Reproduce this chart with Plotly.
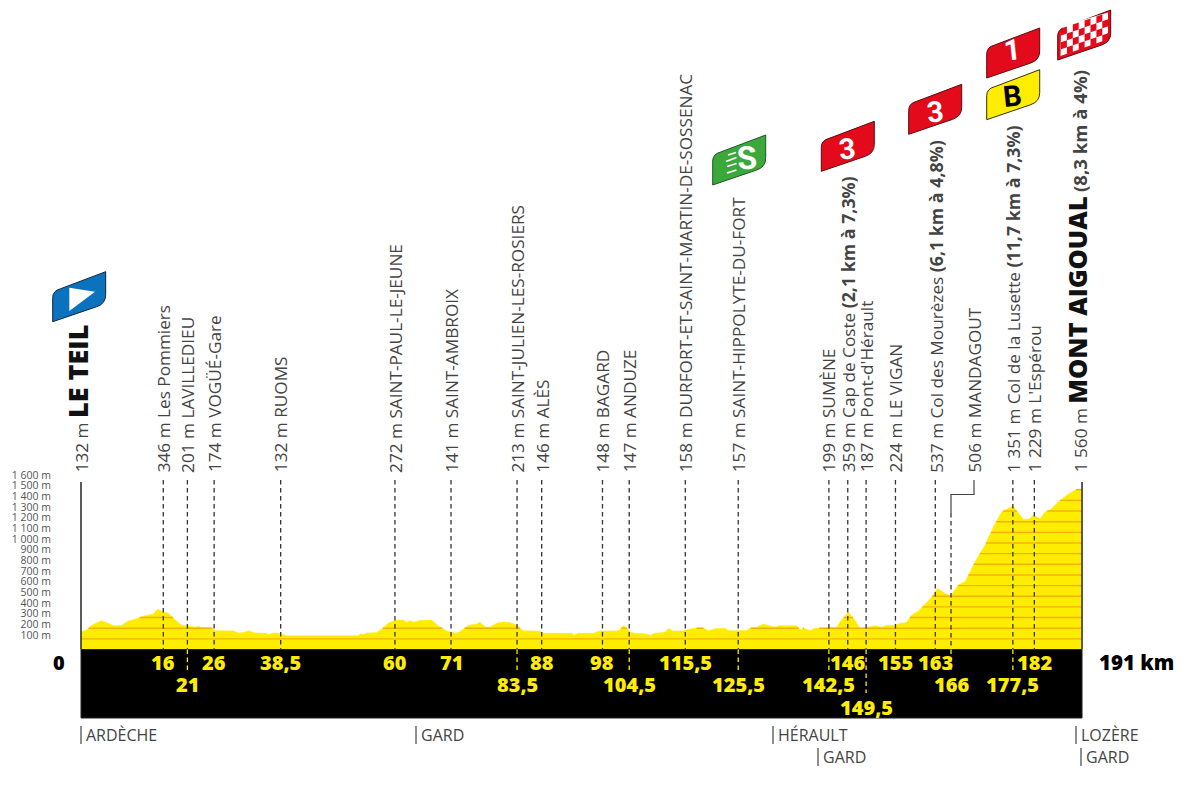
import plotly.graph_objects as go
import numpy as np

# ---- data ----
profile_km = [0.0,1.1,2.0,3.0,3.9,5.2,6.2,7.8,9.0,10.3,12.2,13.8,14.6,15.7,16.7,18.0,19.2,20.5,21.8,22.4,23.0,24.9,25.6,29.1,30.0,31.3,31.9,33.2,35.4,35.7,36.7,38.0,39.2,
 49.4,52.9,53.4,53.9,54.5,56.4,57.7,58.6,60.2,61.5,62.1,62.8,63.5,64.7,66.9,68.2,69.8,70.7,71.4,72.3,73.9,75.5,76.1,77.1,78.0,79.3,80.6,81.9,82.8,84.4,87.6,88.2,93.6,94.1,94.9,97.8,
 99.0,102.2,102.8,103.5,104.1,104.8,105.7,107.6,108.6,109.5,111.4,112.2,112.8,114.9,116.8,118.7,119.7,121.0,122.9,123.5,125.1,127.0,127.6,128.9,130.2,131.5,132.4,133.1,136.6,137.2,137.8,139.1,140.0,142.6,144.2,145.1,146.4,147.4,148.6,
 150.2,151.5,152.8,153.7,155.3,156.3,157.5,158.5,159.8,161.0,162.3,163.4,164.5,165.9,167.4,168.7,170.6,172.5,174.1,175.7,177.8,178.9,179.8,180.8,181.7,183.0,184.0,184.9,186.5,188.4,190.0,191.0]
profile_m = [164,183,227,252,271,246,224,227,268,283,318,333,377,352,340,277,227,221,208,218,205,205,177,174,155,161,177,155,152,139,155,152,130,
 130,130,149,139,155,158,205,246,277,277,255,271,255,274,274,221,174,158,152,167,227,239,255,214,208,246,258,252,236,177,171,152,152,136,152,152,
 174,174,183,224,205,161,152,149,133,152,161,199,174,174,199,202,177,196,199,177,174,177,199,208,239,224,208,224,224,183,202,177,199,202,211,277,349,293,205,
 208,224,208,227,227,246,252,324,362,427,490,574,537,502,606,637,825,981,1153,1294,1347,1279,1222,1222,1260,1228,1294,1310,1388,1460,1504,1507]

elev_ticks = list(range(100, 1700, 100))
elev_text = ["100 m","200 m","300 m","400 m","500 m","600 m","700 m","800 m","900 m","1 000 m","1 100 m","1 200 m","1 300 m","1 400 m","1 500 m","1 600 m"]

place_km = [15.7,20.3,25.4,38.1,59.9,70.6,83.2,87.9,99.5,104.6,115.3,125.4,142.7,146.3,149.8,155.4,163.0,166.0,177.8,181.9]
km_labels = ["16","21","26","38,5","60","71","83,5","88","98","104,5","115,5","125,5","142,5","146","149,5","155","163","166","177,5","182"]
km_rows = [1,2,1,1,1,1,2,1,1,2,1,2,2,1,3,1,1,2,2,1]
BOLD = "font-weight:700;font-size:17.8px"
place_text = ["346 m Les Pommiers","201 m LAVILLEDIEU","174 m VOGÜÉ-Gare","132 m RUOMS","272 m SAINT-PAUL-LE-JEUNE","141 m SAINT-AMBROIX",
 "213 m SAINT-JULIEN-LES-ROSIERS","146 m ALÈS","148 m BAGARD","147 m ANDUZE","158 m DURFORT-ET-SAINT-MARTIN-DE-SOSSENAC","157 m SAINT-HIPPOLYTE-DU-FORT",
 "199 m SUMÈNE",f"359 m Cap de Coste <span style='{BOLD}'>(2,1 km à 7,3%)</span>","187 m Pont-d'Hérault","224 m LE VIGAN",
 f"537 m Col des Mourèzes <span style='{BOLD}'>(6,1 km à 4,8%)</span>",None,
 f"1 351 m Col de la Lusette <span style='{BOLD}'>(11,7 km à 7,3%)</span>","1 229 m L'Espérou"]

regions = ["ARDÈCHE","GARD","HÉRAULT","GARD","LOZÈRE","GARD"]
region_px = [(81,735),(416,735),(773,735),(818,757),(1076,735),(1081,757)]

# ---- scale of the page: helpers take pixels of the 1200x792 window; the page has an 8 px body margin ----
PAD = 8
W, H = 1200 - PAD, 792 - PAD
PX_KM = 5.241; PX_M = 0.1065; X0 = 81; Y0 = 649.5
def kmx(px): return (px - X0) / PX_KM
def my(py): return (Y0 - py) / PX_M
def px_p(px): return (px - PAD) / W
def py_p(py): return 1 - (py - PAD) / H

km = np.array(profile_km, float); alt = np.array(profile_m, float)
BAND = my(718)
LEADER_TOP = my(480); LABEL_BASE = my(474.5)
INK = "#444444"; YEL = "#FFED00"; ORG = "#F7B000"

fig = go.Figure()

# profile
fig.add_trace(go.Scatter(x=km, y=alt, mode="lines", fill="tozeroy", fillcolor=YEL,
                         line=dict(color=YEL, width=0.5), hoverinfo="skip"))
# 100 m bands clipped to the profile
gx, gy = [], []
for lv in elev_ticks[:-1]:
    inside = False
    for i in range(len(km) - 1):
        a, b = alt[i], alt[i + 1]
        if (a - lv) * (b - lv) < 0:
            xc = km[i] + (lv - a) / (b - a) * (km[i + 1] - km[i])
            gx.append(xc); gy.append(lv)
            if inside:
                gx.append(None); gy.append(None)
            inside = not inside
    if inside:
        gx += [km[-1], None]; gy += [lv, None]
gx += [0, 191, None]; gy += [100, 100, None]
fig.add_trace(go.Scatter(x=gx, y=gy, mode="lines", line=dict(color=ORG, width=1.4), hoverinfo="skip"))

# black band
fig.add_trace(go.Scatter(x=[0, 191, 191, 0, 0], y=[0, 0, BAND, BAND, 0], mode="lines", fill="toself",
                         fillcolor="#000000", line=dict(color="#222222", width=1), hoverinfo="skip"))
# axis lines
fig.add_trace(go.Scatter(x=[0, 0, None, 191, 191], y=[my(482), 0, None, my(482), 0], mode="lines",
                         line=dict(color="#333333", width=1.6), hoverinfo="skip"))

# dashed leaders
lx, ly, yx, yy = [], [], [], []
for k, r, t in zip(place_km, km_rows, place_text):
    top = LEADER_TOP if t is not None else my(513)
    lx += [k, k, None]; ly += [top, 0, None]
    if r > 1:
        yx += [k, k, None]; yy += [0, my(672 if r == 2 else 693), None]
fig.add_trace(go.Scatter(x=lx, y=ly, mode="lines", line=dict(color="#333333", width=1.3, dash="4.5px,3.5px"), hoverinfo="skip"))
fig.add_trace(go.Scatter(x=yx, y=yy, mode="lines", line=dict(color=YEL, width=1.3, dash="4.5px,3.5px"), hoverinfo="skip"))
# Mandagout elbow
fig.add_trace(go.Scatter(x=[kmx(974), kmx(974), 166.0, 166.0], y=[LEADER_TOP, my(494.5), my(494.5), my(513)],
                         mode="lines", line=dict(color="#444444", width=1.2), hoverinfo="skip"))

ann = []
def rot(x, text, size=17.2, y=LABEL_BASE):
    ann.append(dict(x=x, y=y, xref="x", yref="y", text=text, textangle=-90, showarrow=False, xanchor="center", yanchor="bottom",
                    font=dict(family="Open Sans", size=size, color=INK)))
for k, t in zip(place_km, place_text):
    if t: rot(k, t)
rot(kmx(973.5), "506 m MANDAGOUT")
rot(-0.6, "132 m <span style='font-size:27px;font-weight:800;fill:#111'>LE TEIL</span>")
rot(190.0, "1 560 m <span style='font-size:25.5px;font-weight:800;fill:#111'>MONT AIGOUAL</span> <span style='font-weight:700;font-size:18.6px'>(8,3 km à 4%)</span>")

# km numbers
row_y = {1: 662.3, 2: 684.8, 3: 707.3}
for k, lab, r in zip(place_km, km_labels, km_rows):
    ann.append(dict(x=k, y=my(row_y[r]), xref="x", yref="y", text=lab, showarrow=False,
                    font=dict(family="Open Sans", size=20, color=YEL, weight=800)))
ann.append(dict(x=kmx(59), y=my(662.3), xref="x", yref="y", text="0", showarrow=False, font=dict(family="Open Sans", size=20, color="#000", weight=800)))
ann.append(dict(x=kmx(1136), y=my(662.3), xref="x", yref="y", text="191 km", showarrow=False, font=dict(family="Open Sans", size=20.5, color="#000", weight=800)))

shapes = []
# regions: the small bar and the name
for t, (px, py) in zip(regions, region_px):
    shapes.append(dict(type="line", xref="paper", yref="paper", x0=px_p(px), x1=px_p(px), y0=py_p(py - 9), y1=py_p(py + 9),
                       line=dict(color="#444444", width=1.2)))
    ann.append(dict(x=px_p(px + 3), y=py_p(py), xref="paper", yref="paper", text=t, showarrow=False, xanchor="left", yanchor="middle",
                    font=dict(family="Open Sans", size=16, color=INK)))

# flags
FLAG = "M0,0 L0,24 Q0,31 8,33 L53,50 L53,27 Q53,18 44,15 Z"
def flag(px, py, fill, edge):
    # path in pixels relative to the lower-left corner; y counts upward in pixel mode
    shapes.append(dict(type="path", xref="paper", yref="paper", xsizemode="pixel", ysizemode="pixel",
                       xanchor=px_p(px), yanchor=py_p(py), path=FLAG,
                       fillcolor=fill, line=dict(color=edge, width=1)))
def poly(pts, fill, line=None, width=0):
    d = "M" + " L".join(f"{px_p(x):.5f},{py_p(y):.5f}" for x, y in pts) + (" Z" if line is None else "")
    shapes.append(dict(type="path", xref="paper", yref="paper", path=d,
                       fillcolor=fill if line is None else "rgba(0,0,0,0)",
                       line=dict(color=line or fill, width=width)))

flag(52.7, 321.7, "#0B72BE", "#12263f")
flag(712.7, 185, "#3CA73A", "#1d5a20")
flag(821.3, 171.3, "#E30A1C", "#5c0a10")
flag(908.7, 134.3, "#E30A1C", "#5c0a10")
flag(986.7, 78, "#E30A1C", "#5c0a10")
flag(986.7, 119.7, YEL, "#333300")
flag(1057.7, 60, "#E30A1C", "#5c0a10")

# start triangle
poly([(69.3, 287.7), (95, 291.7), (69.3, 311)], "#FFFFFF")
# sprint speed lines
for (a, b, c, d) in [(728, 155, 736, 152.5), (726, 161.5, 736.5, 157.5), (727, 166.5, 736.5, 163.5), (727, 173, 736.5, 170)]:
    poly([(a, b), (c, d)], "#FFFFFF", line="#FFFFFF", width=1.6)
# chequered flag
poly([(1061, 30), (1065, 25), (1108, 12.5), (1108, 33), (1103, 41), (1060.5, 56)], "#FFFFFF")
cw, ch, sl = 5.9, 6.9, -0.34
for i in range(8):
    for j in range(4):
        if (i + j) % 2 == 0:
            x0 = 1061 + i * cw; y0 = 28.5 + j * ch + i * cw * sl
            x1 = x0 + cw
            poly([(x0, y0), (x1, y0 + cw * sl), (x1, y0 + cw * sl + ch), (x0, y0 + ch)], "#E30A1C")

def flagtext(px, py, t, color, size=29):
    ann.append(dict(x=px_p(px), y=py_p(py), xref="paper", yref="paper", text=f"<b>{t}</b>", showarrow=False, textangle=-6,
                    xanchor="center", yanchor="middle",
                    font=dict(family="Roboto", size=size, color=color)))
flagtext(847.7, 149, "3", "#FFFFFF")
flagtext(935, 111.7, "3", "#FFFFFF")
flagtext(1012.7, 50, "1", "#FFFFFF")
flagtext(1012.7, 95.7, "B", "#000000")
flagtext(746.7, 158, "S", "#FFFFFF", 32)

fig.update_layout(
    width=W, height=H, margin=dict(l=0, r=0, t=0, b=0), showlegend=False,
    paper_bgcolor="#FFFFFF", plot_bgcolor="#FFFFFF", annotations=ann, shapes=shapes,
    xaxis=dict(range=[kmx(PAD), kmx(1200)], visible=False, domain=[0, 1]),
    yaxis=dict(range=[my(792), my(PAD)], anchor="free", position=px_p(51), showgrid=False, zeroline=False, showline=False,
               tickmode="array", tickvals=elev_ticks, ticktext=elev_text, ticks="", ticklabelshift=-4,
               tickfont=dict(family="Open Sans", size=10.5, color="#555555")),
)
fig.write_html("out.html")
